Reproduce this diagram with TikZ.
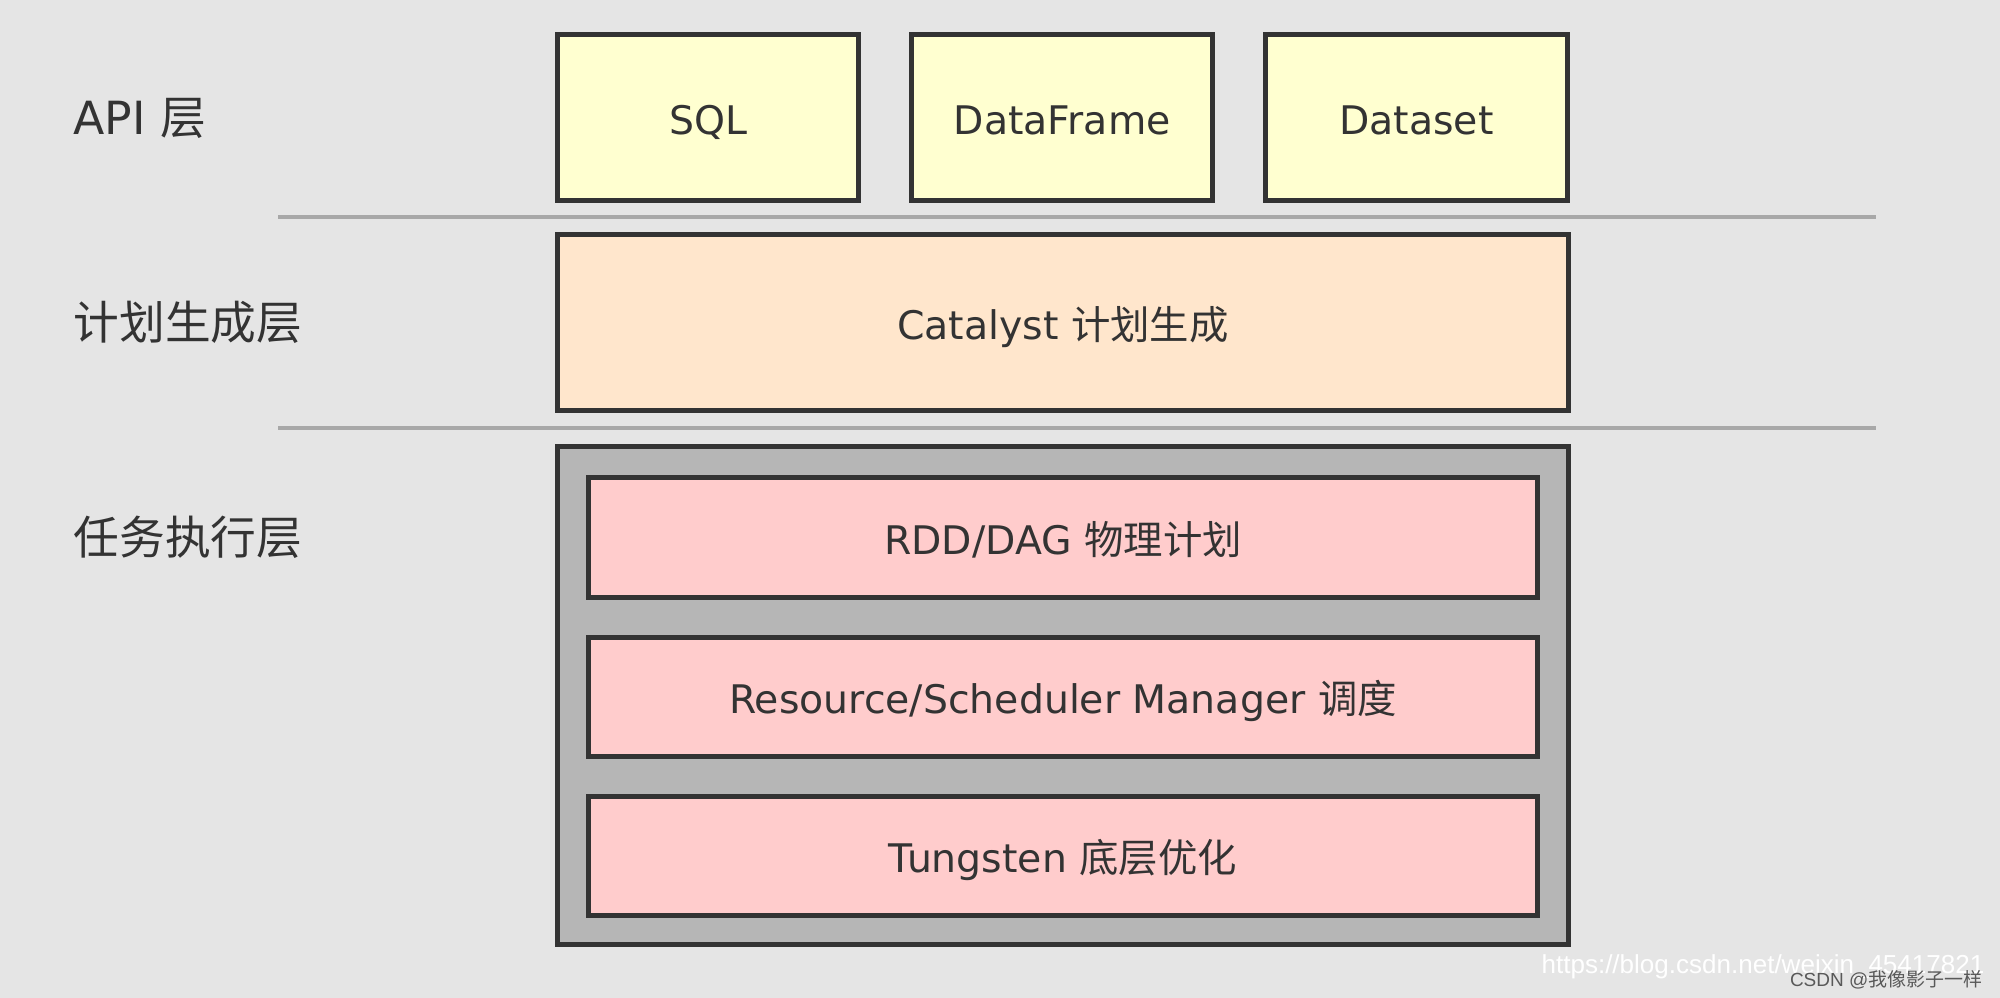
\documentclass[tikz,border=0pt]{standalone}
\usepackage{fontspec}
\usepackage{tikz}
\usetikzlibrary{positioning}
\setmainfont{DejaVu Sans}
\newfontfamily\cjk{Noto Sans CJK SC}
\newfontfamily\wmfont{Liberation Sans}

\definecolor{bgcol}{HTML}{E5E5E5}
\definecolor{inkcol}{HTML}{333333}
\definecolor{apicol}{HTML}{FFFFD0}
\definecolor{plancol}{HTML}{FFE6CC}
\definecolor{execcol}{HTML}{B6B6B6}
\definecolor{taskcol}{HTML}{FFCCCC}
\definecolor{sepcol}{HTML}{A8A8A8}

\begin{document}
\begin{tikzpicture}[x=0.01cm, y=-0.01cm, node distance=0.35cm,
  every node/.style = {text=inkcol, font=\fontsize{11.2}{13}\selectfont},
  layerbox/.style = {shape=rectangle, draw=inkcol, line width=0.05cm, inner sep=0pt,
    text height=1.05em, text depth=0.07em},
  apibox/.style = {layerbox, fill=apicol, minimum width=3.01cm, minimum height=1.66cm},
  taskbox/.style = {layerbox, fill=taskcol, minimum width=9.49cm, minimum height=1.19cm},
  layername/.style = {anchor=west, inner sep=0pt, font=\fontsize{13}{15}\selectfont,
    text height=1.05em, text depth=0.07em},
  sepline/.style = {draw=sepcol, line width=0.04cm}]
  \fill[bgcol] (0,0) rectangle (2000,998);
  \useasboundingbox (0,0) rectangle (2000,998);
  \node[apibox] (sql) at (708,117.5) {SQL};
  \node[apibox, right=0.48cm of sql] (dataframe) {DataFrame};
  \node[apibox, right=0.48cm of dataframe] (dataset) {Dataset};
  \node[layerbox, fill=plancol, minimum width=10.11cm, minimum height=1.76cm]
    (catalyst) at (1063,322.5) {Catalyst {\cjk 计划生成}};
  \node[layerbox, fill=execcol, minimum width=10.11cm, minimum height=4.98cm]
    (exec) at (1063,695.5) {};
  \node[taskbox] (rdd) at (1063,537.5) {RDD/DAG {\cjk 物理计划}};
  \node[taskbox, below=of rdd] (sched) {Resource/Scheduler Manager {\cjk 调度}};
  \node[taskbox, below=of sched] (tungsten) {Tungsten {\cjk 底层优化}};
  \coordinate (lft) at (73,0);
  \node[layername] (apiname) at (sql -| lft) {API {\cjk 层}};
  \node[layername] (planname) at (catalyst -| lft) {\cjk 计划生成层};
  \node[layername] (execname) at (rdd -| lft) {\cjk 任务执行层};
  \draw[sepline] (278,217) -- (1876,217);
  \draw[sepline] (278,428.5) -- (1876,428.5);
  \node[anchor=base east, inner sep=0pt, text=white,
    font=\wmfont\fontsize{7.4}{9}\selectfont] (wmurl) at (1985,973)
    {https://blog.csdn.net/weixin\_45417821};
  \node[anchor=base east, inner sep=0pt, text=black!65,
    font=\wmfont\fontsize{5.4}{7}\selectfont] (wmuser) at (1983,986)
    {CSDN @{\cjk 我像影子一样}};
\end{tikzpicture}
\end{document}
